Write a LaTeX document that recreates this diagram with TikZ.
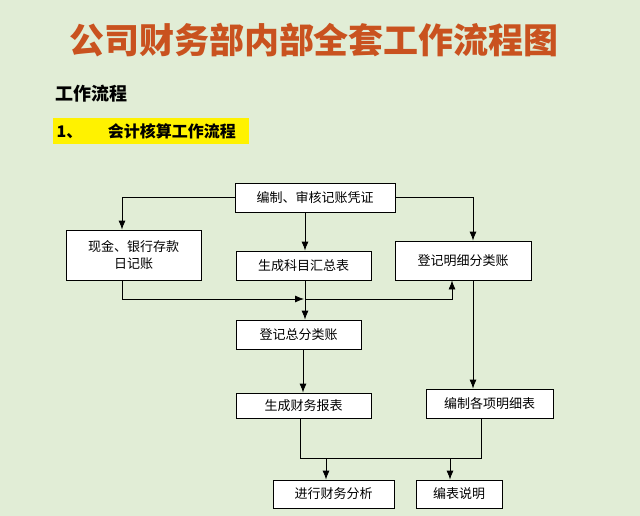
\documentclass[tikz,border=0pt]{standalone}
\usepackage{fontspec}
\setmainfont{Noto Sans CJK SC}
\usetikzlibrary{calc,arrows.meta}

\definecolor{bgcol}{HTML}{E1EDD6}
\definecolor{titlecol}{HTML}{C9521F}
\tikzset{
	stepbox/.style={draw, fill=white, line width=0.8pt, inner sep=0pt, font=\fontsize{13}{17}\selectfont, align=center},
	flow/.style={-{Latex[length=9pt,width=7pt]}, line width=0.8pt}
}

\begin{document}
\begin{tikzpicture}[x=1pt, y=-1pt]
	\fill[bgcol] (0,0) rectangle (640,516);
	\useasboundingbox (0,0) rectangle (640,516);
	\node[titlecol, font=\bfseries\fontsize{35}{38}\selectfont] (title) at (314,40) {公司财务部内部全套工作流程图};
	\node[anchor=west, font=\bfseries\fontsize{18}{20}\selectfont] (sec) at (52,94) {工作流程};
	\fill[yellow] (53,118) rectangle (249,144);
	\node[anchor=west, font=\bfseries\fontsize{16}{18}\selectfont] (sub) at (53,131) {1、\hspace{1.6em}会计核算工作流程};
	
	\node[stepbox, minimum width=160, minimum height=29] (voucher) at (315,197.5) {编制、审核记账凭证};
	\node[stepbox, minimum width=135, minimum height=50] (cash) at (133.5,255) {现金、银行存款\\日记账};
	\node[stepbox, minimum width=135, minimum height=29] (summary) at (303.5,265.5) {生成科目汇总表};
	\node[stepbox, minimum width=136, minimum height=39] (detail) at (463,260.5) {登记明细分类账};
	\node[stepbox, minimum width=125, minimum height=29] (general) at (298.5,334.5) {登记总分类账};
	\node[stepbox, minimum width=135, minimum height=25] (report) at (303.5,405.5) {生成财务报表};
	\node[stepbox, minimum width=127, minimum height=29] (detailtbl) at (489.5,403.5) {编制各项明细表};
	\node[stepbox, minimum width=121, minimum height=28] (analysis) at (333.5,494) {进行财务分析};
	\node[stepbox, minimum width=86, minimum height=28] (note) at (459,494) {编表说明};
	
	\coordinate (J1) at (122,299);
	\coordinate (J2) at (305,299);
	\coordinate (J3) at (300,458);
	\draw[flow] (voucher.west) -| (cash.north -| J1);
	\draw[flow] (voucher.east) -| (detail.north -| 473,0);
	\draw[flow] (voucher.south -| J2) -- (summary.north -| J2);
	\draw[flow] (summary.south -| J2) -- (general.north -| J2);
	\draw[line width=0.8pt] (cash.south -| J1) -- (J1);
	\draw[flow] (J1) -- ($(J2)+(-1,0)$);
	\draw[flow] (J2) -| (detail.south -| 452,0);
	\draw[flow] (detail.south -| 473,0) -- (detailtbl.north -| 473,0);
	\draw[flow] (general.south -| 303,0) -- (report.north -| 303,0);
	\draw[line width=0.8pt] (report.south -| J3) -- (J3) -| (detailtbl.south -| 481,0);
	\draw[flow] (J3 -| 326,0) -- (analysis.north -| 326,0);
	\draw[flow] (J3 -| 450,0) -- (note.north -| 450,0);
\end{tikzpicture}
\end{document}
